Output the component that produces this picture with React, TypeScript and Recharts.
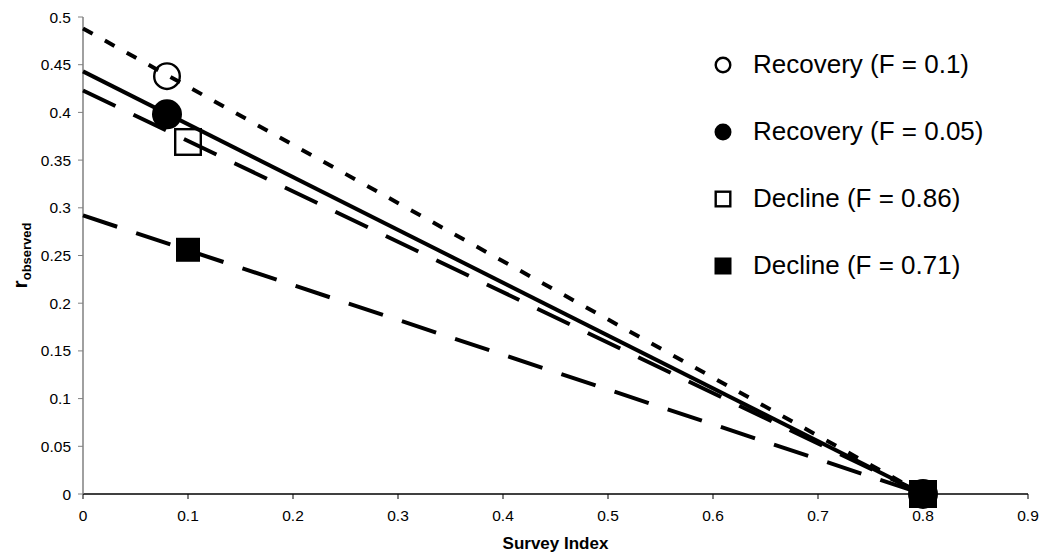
import { ComposedChart, Scatter, XAxis, YAxis, Legend } from 'recharts'

// observed points (survey index, r observed)
const recoveryF01 = [
  { x: 0.08, y: 0.438 },
  { x: 0.8, y: 0 },
]
const recoveryF005 = [
  { x: 0.08, y: 0.398 },
  { x: 0.8, y: 0 },
]
const declineF086 = [
  { x: 0.1, y: 0.369 },
  { x: 0.8, y: 0 },
]
const declineF071 = [
  { x: 0.1, y: 0.256 },
  { x: 0.8, y: 0 },
]

// trend lines, read at x = 0 and x = 0.8
const trendF01 = [
  { x: 0, y: 0.488 },
  { x: 0.8, y: 0 },
]
const trendF005 = [
  { x: 0, y: 0.443 },
  { x: 0.8, y: 0 },
]
const trendF086 = [
  { x: 0, y: 0.423 },
  { x: 0.8, y: 0 },
]
const trendF071 = [
  { x: 0, y: 0.292 },
  { x: 0.8, y: 0 },
]

const seriesNames = ['Recovery (F = 0.1)', 'Recovery (F = 0.05)', 'Decline (F = 0.86)', 'Decline (F = 0.71)']
const xTicks = [0, 0.1, 0.2, 0.3, 0.4, 0.5, 0.6, 0.7, 0.8, 0.9]
const yTicks = [0, 0.05, 0.1, 0.15, 0.2, 0.25, 0.3, 0.35, 0.4, 0.45, 0.5]

const FONT = '"Liberation Sans", Arial, sans-serif'

type Kind = 'openCircle' | 'circle' | 'openSquare' | 'square'
const kinds: Kind[] = ['openCircle', 'circle', 'openSquare', 'square']
const plotSizes = [28, 30, 28, 24]

function drawMark(kind: Kind, cx: number, cy: number, size: number) {
  const r = size / 2
  if (kind === 'openCircle') return <circle cx={cx} cy={cy} r={r - 1.2} fill="none" stroke="#000" strokeWidth={2.4} />
  if (kind === 'circle') return <circle cx={cx} cy={cy} r={r} fill="#000" />
  if (kind === 'openSquare')
    return <rect x={cx - r + 1.2} y={cy - r + 1.2} width={size - 2.4} height={size - 2.4} fill="none" stroke="#000" strokeWidth={2.4} />
  return <rect x={cx - r} y={cy - r} width={size} height={size} fill="#000" />
}

const markShape = (kind: Kind, size: number) => (props: any) => <g>{drawMark(kind, props.cx, props.cy, size)}</g>
const noShape = () => <g />

function LegendBox() {
  return (
    <div style={{ fontFamily: FONT, fontSize: 26, color: '#000' }}>
      {seriesNames.map((name, i) => (
        <div key={name} style={{ height: 67, display: 'flex', alignItems: 'center' }}>
          <svg width={24} height={24} style={{ marginRight: 18 }}>
            {drawMark(kinds[i], 12, 12, 17)}
          </svg>
          <span>{name}</span>
        </div>
      ))}
    </div>
  )
}

function YTitle(props: any) {
  const vb = props.viewBox || { x: 0, y: 17, height: 477 }
  const cy = vb.y + vb.height / 2
  return (
    <text transform={`translate(27, ${cy}) rotate(-90)`} textAnchor="middle" fontFamily={FONT} fontWeight="bold" fill="#000">
      <tspan fontSize={21}>r</tspan>
      <tspan fontSize={13} dy={4}>observed</tspan>
    </text>
  )
}

function XTitle(props: any) {
  const vb = props.viewBox || { x: 83, width: 945 }
  return (
    <text x={vb.x + vb.width / 2} y={549} textAnchor="middle" fontFamily={FONT} fontWeight="bold" fontSize={17} fill="#000">
      Survey Index
    </text>
  )
}

const trends = [
  { data: trendF01, dash: '11 14' },
  { data: trendF005, dash: undefined },
  { data: trendF086, dash: '36 20' },
  { data: trendF071, dash: '36 20' },
]
const points = [recoveryF01, recoveryF005, declineF086, declineF071]

export default function App() {
  return (
    <div style={{ position: 'absolute', left: 0, top: 0, background: '#fff' }}>
      <ComposedChart width={1042} height={559} margin={{ top: 17, right: 14, bottom: 0, left: 0 }}>
        <XAxis
          type="number"
          dataKey="x"
          domain={[0, 0.9]}
          ticks={xTicks}
          interval={0}
          height={65}
          tickSize={5}
          tickMargin={11}
          stroke="#000"
          tick={{ fill: '#000', fontSize: 15.5, fontFamily: FONT }}
          tickLine={{ stroke: '#000' }}
          axisLine={{ stroke: '#000', strokeWidth: 1.5 }}
          label={<XTitle />}
        />
        <YAxis
          type="number"
          dataKey="y"
          domain={[0, 0.5]}
          ticks={yTicks}
          interval={0}
          width={83}
          tickSize={5}
          tickMargin={7}
          tick={{ fill: '#000', fontSize: 15.5, fontFamily: FONT }}
          tickLine={{ stroke: '#808080' }}
          axisLine={{ stroke: '#808080', strokeWidth: 1.5 }}
          label={<YTitle />}
        />
        {trends.map((t, i) => (
          <Scatter
            key={'trend' + i}
            data={t.data}
            legendType="none"
            shape={noShape}
            line={{ stroke: '#000', strokeWidth: 4, strokeDasharray: t.dash }}
            lineType="joint"
            isAnimationActive={false}
          />
        ))}
        {points.map((p, i) => (
          <Scatter
            key={'pts' + i}
            name={seriesNames[i]}
            data={p}
            shape={markShape(kinds[i], plotSizes[i])}
            isAnimationActive={false}
          />
        ))}
        <Legend
          layout="vertical"
          align="center"
          verticalAlign="middle"
          content={<LegendBox />}
          wrapperStyle={{ left: 711, top: 31, width: 320 }}
        />
      </ComposedChart>
    </div>
  )
}
